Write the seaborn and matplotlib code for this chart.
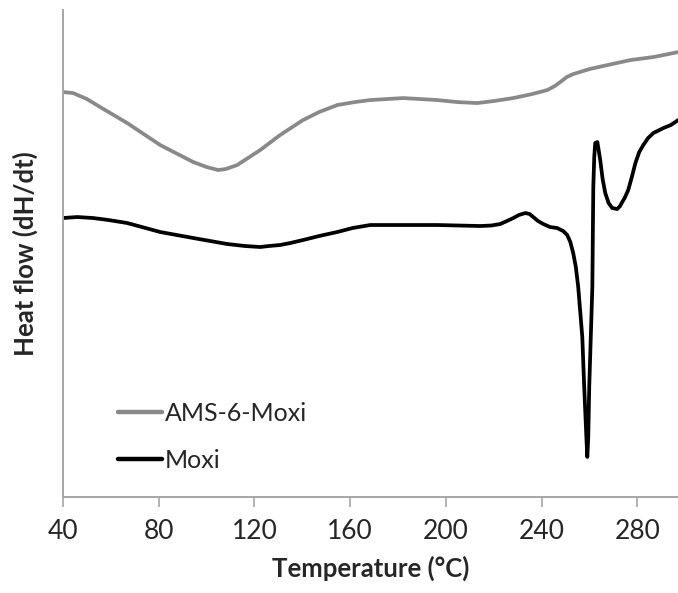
import pandas as pd
import seaborn as sns
import matplotlib.pyplot as plt

# DSC traces (arbitrary heat-flow units)
ams_temp = [40.0, 44.2, 50.0, 55.5, 66.8, 80.6, 94.4, 100.0, 104.8, 108.0, 112.8,
            122.4, 130.7, 140.3, 147.0, 154.6, 162.0, 168.4, 182.2, 196.4, 204.7,
            213.1, 220.0, 228.2, 236.0, 242.4, 245.5, 247.8, 250.5, 253.2, 260.0,
            267.5, 277.1, 286.7, 297.1]
ams_flow = [405, 404, 398, 390, 374, 352, 335, 330, 327, 328, 332,
            347, 362, 377, 385, 392, 395, 397, 399, 397, 395,
            394, 396, 399, 403, 407, 411, 415, 420, 423, 428,
            432, 437, 440, 445]

moxi_temp = [40.0, 46.0, 52.5, 59.0, 66.8, 80.6, 94.4, 108.6, 116.0, 122.4, 126.0,
             130.7, 135.0, 140.3, 147.0, 154.6, 161.0, 168.4, 182.2, 196.4, 214.4,
             219.0, 222.7, 225.5, 228.2, 230.5, 233.2, 235.0, 236.5, 238.5, 240.7,
             243.5, 246.5, 249.0, 250.7, 252.0, 253.2, 254.3, 255.3, 257.0, 257.8,
             258.7, 259.1, 259.5, 259.9, 261.2, 261.6, 262.0, 262.4, 263.3, 264.5,
             265.5, 266.6, 268.0, 269.5, 271.6, 272.8, 273.7, 274.7, 276.2, 277.7,
             279.2, 280.8, 282.5, 284.5, 286.7, 290.9, 294.0, 297.1]
moxi_flow = [279, 280, 279, 277, 274, 265, 259, 253, 251, 250, 251,
             252, 254, 257, 261, 265, 269, 272, 272, 272, 271,
             271.5, 273, 276, 279, 282, 284, 283, 280, 276, 273,
             270, 269, 266, 262, 255, 244, 230, 210, 160, 110,
             60, 40, 60, 110, 210, 310, 340, 354, 355, 337,
             318, 304, 294, 289, 288, 291, 295, 299, 307, 320,
             334, 345, 352, 359, 364, 369, 372, 377]

x_ticks = [40, 80, 120, 160, 200, 240, 280]

df = pd.concat([
    pd.DataFrame({"Temperature": ams_temp, "Heat flow": ams_flow, "sample": "AMS-6-Moxi"}),
    pd.DataFrame({"Temperature": moxi_temp, "Heat flow": moxi_flow, "sample": "Moxi"}),
])

sns.set_style("white")
plt.rcParams["font.family"] = ["Lato", "DejaVu Sans"]

fig = plt.figure(figsize=(6.78, 5.93), dpi=100)
ax = fig.add_axes([0.093, 0.162, 0.907, 0.821])

sns.lineplot(data=df, x="Temperature", y="Heat flow", hue="sample",
             palette={"AMS-6-Moxi": "#898989", "Moxi": "black"},
             linewidth=2.7, sort=False, ax=ax)

ax.set_xlim(40, 297)
ax.set_ylim(0, 487)
ax.set_xticks(x_ticks)
ax.set_yticks([])
ax.tick_params(axis="x", direction="out", length=7, width=1.2, color="#a6a6a6",
               labelsize=19, pad=9, bottom=True)
sns.despine(ax=ax)
for side in ["left", "bottom"]:
    ax.spines[side].set_color("#a6a6a6")
    ax.spines[side].set_linewidth(1.4)

ax.set_xlabel("Temperature (°C)", fontsize=18.5, fontweight="bold", labelpad=8)
ax.set_ylabel("Heat flow (dH/dt)", fontsize=18.5, fontweight="bold", labelpad=18)

leg = ax.legend(loc="lower left", bbox_to_anchor=(0.09, 0.052), frameon=False,
                fontsize=18, handlelength=1.75, handletextpad=0.1, labelspacing=0.95,
                borderpad=0, borderaxespad=0)
for line in leg.get_lines():
    line.set_linewidth(3.2)

fig.savefig("out.png", dpi=100)
